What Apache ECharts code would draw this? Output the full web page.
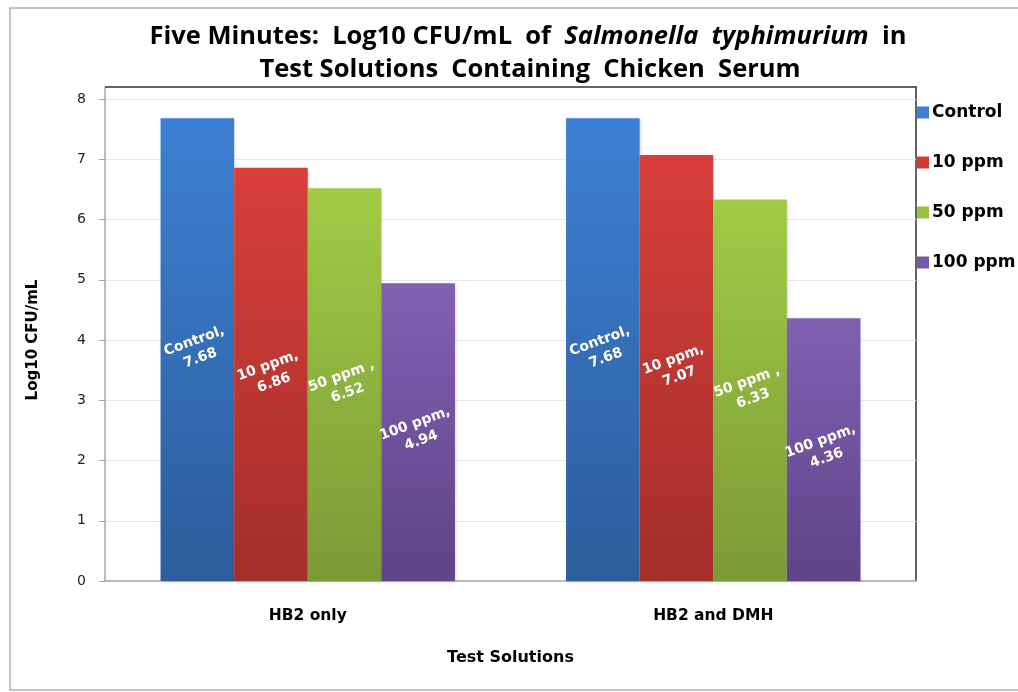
<!DOCTYPE html>
<html><head><meta charset="utf-8">
<script src="https://cdn.jsdelivr.net/npm/echarts@6/dist/echarts.min.js"></script>
<style>html,body{margin:0;padding:0;background:#fff}#c{width:1018px;height:692px}</style>
</head><body><div id="c"></div>
<script>
const categories = ['HB2 only', 'HB2 and DMH'];
const seriesNames = ['Control', '10 ppm', '50 ppm', '100 ppm'];
const labelNames = ['Control', '10 ppm', '50 ppm ', '100 ppm'];
const controlVals = [7.68, 7.68];
const ppm10Vals = [6.86, 7.07];
const ppm50Vals = [6.52, 6.33];
const ppm100Vals = [4.94, 4.36];
const yTicks = [0, 1, 2, 3, 4, 5, 6, 7, 8];

const values = [controlVals, ppm10Vals, ppm50Vals, ppm100Vals];
const grads = [
  ['#3d80d3', '#2d5d9c'],
  ['#d93f3a', '#a32f2b'],
  ['#a1cb45', '#7b9a36'],
  ['#8160b3', '#5f4487']
];
const legendColors = ['#3d7fd0', '#d23a36', '#98c040', '#7a58a8'];

const chart = echarts.init(document.getElementById('c'), null, {renderer: 'canvas'});
const series = seriesNames.map((n, i) => ({
  name: n,
  type: 'bar',
  data: values[i],
  barGap: '0%',
  barCategoryGap: '27.4%',
  itemStyle: {
    color: new echarts.graphic.LinearGradient(0, 0, 0, 1, [
      {offset: 0, color: grads[i][0]}, {offset: 1, color: grads[i][1]}
    ]),
    shadowColor: 'rgba(0,0,0,0.15)', shadowBlur: 3, shadowOffsetX: 1, shadowOffsetY: 1
  },
  label: {
    show: true,
    position: 'inside',
    rotate: 20,
    color: '#fff',
    fontFamily: 'DejaVu Sans',
    fontWeight: 'bold',
    fontSize: 14,
    lineHeight: 18,
    formatter: p => labelNames[i] + ',\n' + p.value.toFixed(2)
  }
}));

const titleFont = 'Open Sans';
chart.setOption({
  animation: false,
  backgroundColor: '#fff',
  title: [{
    left: 523, textAlign: 'center', top: 19,
    text: '{b|Five Minutes:  Log10 CFU/mL  of  }{i|Salmonella  typhimurium}{b|  in}',
    textStyle: {
      rich: {
        b: {fontFamily: titleFont, fontWeight: 'bold', fontSize: 25.5, color: '#000'},
        i: {fontFamily: titleFont, fontWeight: 'bold', fontStyle: 'italic', fontSize: 25.5, color: '#000'}
      }
    }
  }, {
    left: 525, textAlign: 'center', top: 52,
    text: 'Test Solutions  Containing  Chicken  Serum',
    textStyle: {fontFamily: titleFont, fontWeight: 'bold', fontSize: 25.5, color: '#000'}
  }],
  legend: {
    orient: 'vertical',
    left: 912, top: 99,
    itemWidth: 12, itemHeight: 12,
    itemGap: 33,
    icon: 'rect',
    data: seriesNames.map((n, i) => ({name: n, itemStyle: {color: legendColors[i]}})),
    textStyle: {fontFamily: 'DejaVu Sans', fontWeight: 'bold', fontSize: 17, color: '#000', padding: [0, 0, 0, -2]}
  },
  grid: {left: 105, right: 102, top: 99, bottom: 111, containLabel: false},
  xAxis: {
    type: 'category',
    data: categories,
    name: 'Test Solutions',
    nameLocation: 'middle',
    nameGap: 69,
    nameTextStyle: {fontFamily: 'DejaVu Sans', fontWeight: 'bold', fontSize: 16, color: '#000'},
    axisLine: {lineStyle: {color: '#a6a6a6', width: 1.5}},
    axisTick: {show: false},
    axisLabel: {fontFamily: 'DejaVu Sans', fontWeight: 'bold', fontSize: 15.5, color: '#000', margin: 27}
  },
  yAxis: {
    type: 'value',
    min: yTicks[0], max: yTicks[yTicks.length - 1], interval: 1,
    name: 'Log10 CFU/mL',
    nameLocation: 'middle',
    nameGap: 64,
    nameTextStyle: {fontFamily: 'DejaVu Sans', fontWeight: 'bold', fontSize: 15, color: '#000'},
    axisLine: {show: true, lineStyle: {color: '#a6a6a6', width: 1.5}},
    axisTick: {show: true, length: 6, lineStyle: {color: '#a6a6a6'}},
    axisLabel: {fontFamily: 'DejaVu Sans', fontSize: 14, color: '#222', margin: 19},
    splitLine: {lineStyle: {color: '#e1e8f4', width: 1}}
  },
  graphic: [
    {type: 'rect', shape: {x: 10, y: 8, width: 1010, height: 682}, style: {fill: 'none', stroke: '#b0b0b0', lineWidth: 1.5}, silent: true, z: -10},
    {type: 'line', shape: {x1: 105, y1: 87, x2: 105, y2: 99}, style: {stroke: '#a6a6a6', lineWidth: 1.5}, silent: true},
    {type: 'polyline', shape: {points: [[105, 87], [916, 87], [916, 581]]}, style: {fill: 'none', stroke: '#333', lineWidth: 1.5}, silent: true}
  ],
  series: series
});
</script></body></html>
